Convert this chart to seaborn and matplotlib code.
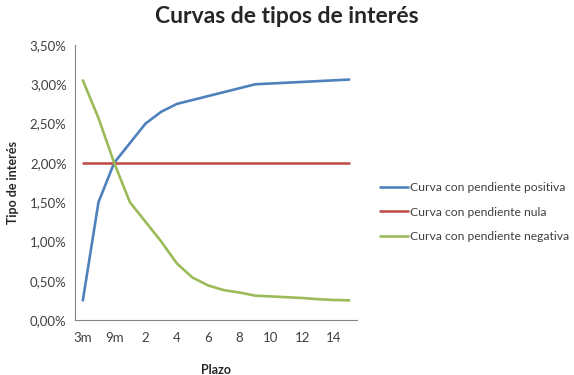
import matplotlib
matplotlib.use("Agg")
import matplotlib.pyplot as plt
import seaborn as sns
import pandas as pd
from matplotlib.ticker import FuncFormatter

plazos = ["3m", "6m", "9m", "1", "2", "3", "4", "5", "6", "7", "8", "9",
          "10", "11", "12", "13", "14", "15"]
positiva = [0.25, 1.50, 2.00, 2.25, 2.50, 2.65, 2.75, 2.80, 2.85, 2.90, 2.95,
            3.00, 3.01, 3.02, 3.03, 3.04, 3.05, 3.06]
nula = [2.00] * 18
negativa = [3.05, 2.57, 2.00, 1.50, 1.25, 1.00, 0.72, 0.54, 0.44, 0.38, 0.35,
            0.31, 0.30, 0.29, 0.28, 0.265, 0.255, 0.25]
series_names = ["Curva con pendiente positiva", "Curva con pendiente nula",
                "Curva con pendiente negativa"]
colors = ["#4F81BD", "#C0504D", "#9BBB59"]

rows = []
for name, vals in zip(series_names, [positiva, nula, negativa]):
    for p, v in zip(plazos, vals):
        rows.append({"Plazo": p, "Tipo": v, "Serie": name})
df = pd.DataFrame(rows)

sns.set_style("white")
plt.rcParams["font.family"] = ["Lato", "DejaVu Sans"]

fig = plt.figure(figsize=(5.74, 3.75), dpi=100)
ax = fig.add_axes([75/574, 1-320/375, (357-75)/574, (320-45)/375])

sns.lineplot(data=df, x="Plazo", y="Tipo", hue="Serie", palette=colors,
             linewidth=1.9, ax=ax, sort=False, legend=True)

ax.set_xlim(-0.5, 17.5)
ax.set_ylim(0, 3.5)
ax.set_yticks([0, 0.5, 1.0, 1.5, 2.0, 2.5, 3.0, 3.5])
ax.yaxis.set_major_formatter(FuncFormatter(lambda v, p: f"{v:.2f}%".replace(".", ",")))
ax.set_xticks(list(range(0, 18, 2)))
ax.set_xticklabels(plazos[::2])

for s in ["top", "right"]:
    ax.spines[s].set_visible(False)
for s in ["left", "bottom"]:
    ax.spines[s].set_color("#868686")
    ax.spines[s].set_linewidth(0.8)
ax.tick_params(axis="both", length=0, labelsize=9.5, colors="#404040", pad=6)
ax.tick_params(axis="x", pad=9)

ax.set_xlabel("Plazo", fontsize=9, fontweight="bold", labelpad=14)
ax.set_ylabel("Tipo de interés", fontsize=9, fontweight="bold", labelpad=8)

fig.suptitle("Curvas de tipos de interés", x=0.5, y=0.985, fontsize=16.5,
             fontweight="bold")

h, l = ax.get_legend_handles_labels()
ax.get_legend().remove()
fig.legend(h, l, loc="center left", bbox_to_anchor=(0.643, 1-212/375),
           frameon=False, fontsize=8.7, handlelength=2.3, handletextpad=0.2,
           labelspacing=1.12, labelcolor="#404040")

fig.savefig("out.png", dpi=100)
